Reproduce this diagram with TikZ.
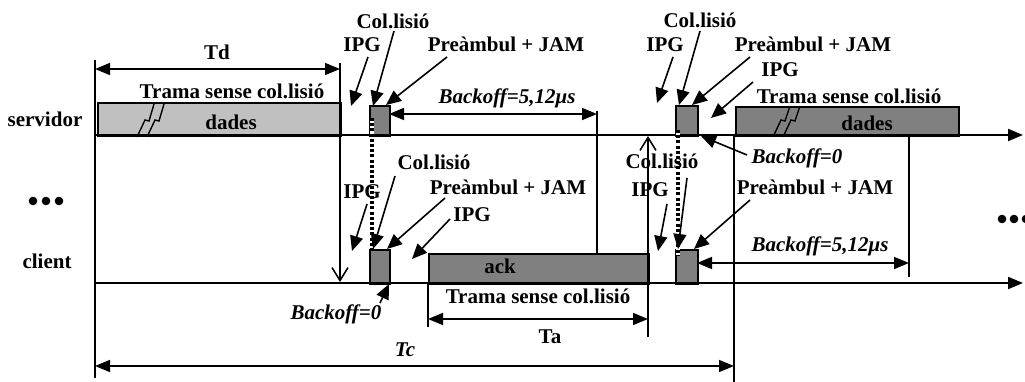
\documentclass[tikz,border=0pt]{standalone}
\usepackage{fontspec}
\setmainfont{Liberation Serif}
\usetikzlibrary{arrows.meta}
\definecolor{lgray}{HTML}{C0C0C0}
\definecolor{dgray}{HTML}{808080}
\begin{document}
\begin{tikzpicture}[x=1pt,y=-1pt,
  lbl/.style={font=\fontsize{21}{24}\selectfont\bfseries, inner sep=0pt, text height=13.8pt, text depth=0pt},
  ilbl/.style={lbl, font=\fontsize{21}{24}\selectfont\bfseries\itshape},
  box/.style={draw, line width=1.6pt, inner sep=0pt, anchor=north west},
  axisline/.style={line width=2pt, -{Triangle[length=15pt,width=12pt]}},
  vline/.style={line width=1.5pt},
  openup/.style={line width=1.5pt, -{Straight Barb[length=13pt,width=16pt]}},
  ann/.style={line width=1.6pt, -{Triangle[length=15pt,width=13pt]}},
  dim/.style={line width=1.6pt, {Triangle[length=15pt,width=12pt]}-{Triangle[length=15pt,width=12pt]}},
  dotsback/.style={draw=white, line width=3.4pt},
  dots/.style={line width=3.2pt, dash pattern=on 3pt off 2.2pt},
  bolt/.style={line width=1.4pt},
  dotfill/.style={fill=black}
]
\path[use as bounding box] (0,0) rectangle (1025,382);

% ---- boxes
\node[box, fill=lgray, minimum width=243pt, minimum height=33pt] (d1) at (97,102) {};
\node[box, fill=dgray, minimum width=20pt, minimum height=30pt] (c1s) at (369,105) {};
\node[box, fill=dgray, minimum width=20pt, minimum height=34pt] (c1c) at (369,249) {};
\node[box, fill=dgray, minimum width=220pt, minimum height=30pt] (ack) at (428,253) {};
\node[box, fill=dgray, minimum width=22pt, minimum height=30pt] (c2s) at (675,105) {};
\node[box, fill=dgray, minimum width=22pt, minimum height=34pt] (c2c) at (675,249) {};
\node[box, fill=dgray, minimum width=223pt, minimum height=29pt] (d2) at (735,106) {};

% ---- coordinates
\coordinate (s0) at (95,135);   \coordinate (s1) at (1023,135);
\coordinate (k0) at (95,283);   \coordinate (k1) at (1023,283);
\coordinate (L0) at (95,60);    \coordinate (L1) at (95,378);
\coordinate (tdv0) at (340,63); \coordinate (tdv1) at (340,282);
\coordinate (tda) at (95,69);   \coordinate (tdb) at (340,69);
\coordinate (b1a) at (389,114); \coordinate (b1b) at (597,114);
\coordinate (b1v0) at (597,111); \coordinate (b1v1) at (597,253);
\coordinate (upv0) at (648,337); \coordinate (upv1) at (648,136);
\coordinate (tav0) at (428,283); \coordinate (tav1) at (428,327);
\coordinate (taa) at (428,319); \coordinate (tab) at (648,319);
\coordinate (tca) at (95,366);  \coordinate (tcb) at (734,366);
\coordinate (rv0) at (734,135); \coordinate (rv1) at (734,382);
\coordinate (v9a) at (909,135); \coordinate (v9b) at (909,277);
\coordinate (b2a) at (697,263); \coordinate (b2b) at (909,263);
\coordinate (dt1a) at (372,118); \coordinate (dt1b) at (372,250);
\coordinate (dt2a) at (678,130); \coordinate (dt2b) at (678,255);

% ---- axes and lines
\draw[vline] (L0) -- (L1);
\draw[axisline] (s0) -- (s1);
\draw[axisline] (k0) -- (k1);
\draw[openup] (tdv0) -- (tdv1);
\draw[dim] (tda) -- (tdb);
\draw[dim] (b1a) -- (b1b);
\draw[vline] (b1v0) -- (b1v1);
\draw[openup] (upv0) -- (upv1);
\draw[vline] (tav0) -- (tav1);
\draw[dim] (taa) -- (tab);
\draw[dim] (tca) -- (tcb);
\draw[vline] (rv0) -- (rv1);
\draw[vline] (v9a) -- (v9b);
\draw[dim] (b2a) -- (b2b);
\draw[dotsback] (dt1a) -- (dt1b);
\draw[dots] (dt1a) -- (dt1b);
\draw[dotsback] (dt2a) -- (dt2b);
\draw[dots] (dt2a) -- (dt2b);

% ---- lightning bolts
\draw[bolt] (137,137) -- (145,120) -- (149,121) -- (154,104);
\draw[bolt] (147,137) -- (155,120) -- (159,121) -- (164,104);
\draw[bolt] (773,137) -- (781,120) -- (785,121) -- (790,106);
\draw[bolt] (783,137) -- (791,120) -- (795,121) -- (800,106);

% ---- side labels and dots
\node[lbl] (srv) at (45,120) {servidor};
\node[lbl] (cli) at (47,262) {client};
\fill[dotfill] (33,201) circle (4.3pt) (46,201) circle (4.3pt) (59,201) circle (4.3pt);
\fill[dotfill] (1002,219) circle (4.3pt) (1014,219) circle (4.3pt) (1026,219) circle (4.3pt);

% ---- frame labels
\node[lbl] (td) at (217,53) {Td};
\node[lbl] (tr1) at (232,92) {Trama sense col.lisió};
\node[lbl] (dd1) at (231,123) {dades};
\node[lbl] (tr2) at (849,97) {Trama sense col.lisió};
\node[lbl] (dd2) at (867,124) {dades};
\node[lbl] (ackl) at (500,267) {ack};
\node[lbl] (tr3) at (538,297) {Trama sense col.lisió};
\node[lbl] (ta) at (550,337) {Ta};
\node[ilbl] (tc) at (405,350) {Tc};
\node[ilbl] (bo1) at (507,97) {Backoff=5,12μs};
\node[ilbl] (bo2) at (820,245) {Backoff=5,12μs};
\node[ilbl] (bz1) at (797,157) {Backoff=0};
\node[ilbl] (bz2) at (336,313) {Backoff=0};

% ---- annotations: servidor collision 1
\node[lbl] (col1) at (393,22) {Col.lisió};
\node[lbl] (ipg1) at (362,45) {IPG};
\node[lbl] (pj1) at (506,45) {Preàmbul + JAM};
\coordinate (a1s) at (368,57);  \coordinate (a1e) at (351,106);
\coordinate (a2s) at (394,31);  \coordinate (a2e) at (373,106);
\coordinate (a3s) at (447,57);  \coordinate (a3e) at (386,105);
\draw[ann] (a1s) -- (a1e);
\draw[ann] (a2s) -- (a2e);
\draw[ann] (a3s) -- (a3e);

% ---- annotations: servidor collision 2
\node[lbl] (col2) at (700,21) {Col.lisió};
\node[lbl] (ipg2) at (665,45) {IPG};
\node[lbl] (pj2) at (813,45) {Preàmbul + JAM};
\node[lbl] (ipg3) at (780,70) {IPG};
\coordinate (b1s) at (673,57);  \coordinate (b1e) at (657,103);
\coordinate (b2s) at (700,31);  \coordinate (b2e) at (679,105);
\coordinate (b3s) at (750,57);  \coordinate (b3e) at (692,105);
\coordinate (b4s) at (753,82);  \coordinate (b4e) at (711,118);
\coordinate (b5s) at (747,155); \coordinate (b5e) at (701,136);
\draw[ann] (b1s) -- (b1e);
\draw[ann] (b2s) -- (b2e);
\draw[ann] (b3s) -- (b3e);
\draw[ann] (b4s) -- (b4e);
\draw[ann] (b5s) -- (b5e);

% ---- annotations: client collision 1
\node[lbl] (col3) at (434,163) {Col.lisió};
\node[lbl] (ipg4) at (362,192) {IPG};
\node[lbl] (pj3) at (508,188) {Preàmbul + JAM};
\node[lbl] (ipg5) at (472,215) {IPG};
\coordinate (c1s0) at (367,204); \coordinate (c1e0) at (352,251);
\coordinate (c2s0) at (395,176); \coordinate (c2e0) at (373,249);
\coordinate (c3s0) at (445,198); \coordinate (c3e0) at (387,249);
\coordinate (c4s0) at (450,219); \coordinate (c4e0) at (412,259);
\coordinate (c5s0) at (380,303); \coordinate (c5e0) at (389,284);
\draw[ann] (c1s0) -- (c1e0);
\draw[ann] (c2s0) -- (c2e0);
\draw[ann] (c3s0) -- (c3e0);
\draw[ann] (c4s0) -- (c4e0);
\draw[ann] (c5s0) -- (c5e0);

% ---- annotations: client collision 2
\node[lbl] (col4) at (662,162) {Col.lisió};
\node[lbl] (ipg6) at (650,190) {IPG};
\node[lbl] (pj4) at (815,188) {Preàmbul + JAM};
\coordinate (d1s0) at (667,204); \coordinate (d1e0) at (658,251);
\coordinate (d2s0) at (687,178); \coordinate (d2e0) at (678,249);
\coordinate (d3s0) at (750,200); \coordinate (d3e0) at (694,249);
\draw[ann] (d1s0) -- (d1e0);
\draw[ann] (d2s0) -- (d2e0);
\draw[ann] (d3s0) -- (d3e0);
\end{tikzpicture}
\end{document}
